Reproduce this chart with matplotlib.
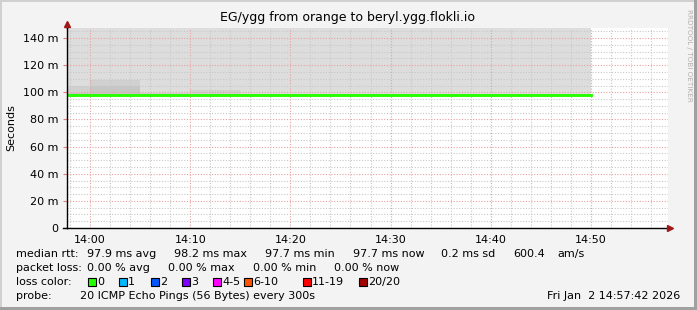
import numpy as np
import matplotlib
matplotlib.use('Agg')
import matplotlib.pyplot as plt
import matplotlib.dates as mdates
from matplotlib.patches import Rectangle
from matplotlib.ticker import MultipleLocator, FuncFormatter

# rrd steps (5 min), each value covers [t, t+5min)
times = ['13:55', '14:00', '14:05', '14:10', '14:15', '14:20',
         '14:25', '14:30', '14:35', '14:40', '14:45', '14:50']
median_ms = [97.8, 98.2, 97.8, 97.7, 97.7, 97.7, 98.0, 98.0, 97.7, 97.7, 97.7]
smoke_hi_ms = [105.0, 109.3, 99.8, 101.5, 98.5, 98.5, 98.8, 98.8, 98.5, 98.5, 98.5]
smoke_lo_ms = [99.5, 104.4, 98.8, 99.0, 98.2, 98.2, 98.5, 98.5, 98.2, 98.2, 98.2]

title = 'EG/ygg from orange to beryl.ygg.flokli.io'
rtt_line = [('median rtt:', 16), ('97.9 ms avg', 87), ('98.2 ms max', 174),
            ('97.7 ms min', 265), ('97.7 ms now', 353), ('0.2 ms sd', 441),
            ('600.4', 513), ('am/s', 557)]
loss_line = [('packet loss:', 16), ('0.00 % avg', 87), ('0.00 % max', 168),
             ('0.00 % min', 253), ('0.00 % now', 334)]
loss_labels = ['0', '1', '2', '3', '4-5', '6-10', '11-19', '20/20']
loss_colors = ['#26ff00', '#00b8ff', '#0059ff', '#7e00ff', '#ff00ff', '#ff5500', '#ff0000', '#a10000']
loss_xpos = [88, 119, 151, 182, 213, 244, 303, 359]
probe_text = '20 ICMP Echo Pings (56 Bytes) every 300s'
stamp = 'Fri Jan  2 14:57:42 2026'

W, H = 697, 310
fs = 8.0

def t(s):
    return np.datetime64('2026-01-02T' + s)

x = np.array([t(s) for s in times])
med = np.array(median_ms + median_ms[-1:])
hi = np.array(smoke_hi_ms + smoke_hi_ms[-1:])
lo = np.array(smoke_lo_ms + smoke_lo_ms[-1:])

fig = plt.figure(figsize=(W / 100, H / 100), dpi=100, facecolor='#f3f3f3')
ax = fig.add_axes([67 / W, 1 - 228 / H, 601 / W, 200 / H])
ax.set_facecolor('white')
ymax = 147.4
ax.set_xlim(t('13:57:42'), t('14:57:42'))
ax.set_ylim(0, ymax)

# smoke
ax.fill_between(x, med, ymax, step='post', color='#dddddd', lw=0, zorder=1)
ax.fill_between(x, med, hi, step='post', color='#d0d0d0', lw=0, zorder=1.1)
ax.fill_between(x, med, lo, step='post', color='#c6c6c6', lw=0, zorder=1.2)
ax.step(x, med, where='post', color='#26ff00', lw=2.1, zorder=3)

ax.xaxis.set_major_locator(mdates.MinuteLocator(byminute=range(0, 60, 10)))
ax.xaxis.set_minor_locator(mdates.MinuteLocator(byminute=range(0, 60, 2)))
ax.xaxis.set_major_formatter(mdates.DateFormatter('%H:%M'))
ax.yaxis.set_major_locator(MultipleLocator(20))
ax.yaxis.set_minor_locator(MultipleLocator(5))
ax.yaxis.set_major_formatter(FuncFormatter(lambda v, p: '0' if v == 0 else '%d m' % v))

ax.set_axisbelow(False)
ax.grid(which='minor', color='#c8c8c8', lw=0.8, ls=(0, (1, 1.5)), zorder=2)
ax.grid(which='major', color='#eaa0a0', lw=0.8, ls=(0, (1, 1.5)), zorder=2.1)

for s in ['top', 'right']:
    ax.spines[s].set_visible(False)
for s in ['left', 'bottom']:
    ax.spines[s].set_color('black')
    ax.spines[s].set_linewidth(1)
    ax.spines[s].set_zorder(4)

ax.tick_params(axis='y', which='major', length=3, color='#e08080', labelsize=fs, pad=3)
ax.tick_params(axis='x', which='major', length=0, labelsize=fs, pad=5)
ax.tick_params(which='minor', length=0)

# arrows and axis overhang
ax.plot([0], [1.02], marker='^', color='#a01818', ms=4.5, transform=ax.transAxes, clip_on=False, zorder=5)
ax.plot([1.0035], [0], marker='>', color='#a01818', ms=4.5, transform=ax.transAxes, clip_on=False, zorder=5)
ax.plot([0, 0], [1, 1.02], color='black', lw=1, transform=ax.transAxes, clip_on=False, zorder=4)
ax.plot([-0.006, 0], [0, 0], color='black', lw=1, transform=ax.transAxes, clip_on=False, zorder=4)

fig.text(348 / W, 1 - 18 / H, title, ha='center', va='center', fontsize=9)
fig.text(11 / W, 1 - 128 / H, 'Seconds', rotation=90, ha='center', va='center', fontsize=fs)
fig.text(689 / W, 1 - 55 / H, 'RRDTOOL / TOBI OETIKER', rotation=270, ha='center',
         va='center', fontsize=5.2, color='#b0b0b0')

def px(xp, yp):
    return xp / W, 1 - yp / H

for s, xp in rtt_line:
    fig.text(*px(xp, 254), s, va='center', fontsize=fs)
for s, xp in loss_line:
    fig.text(*px(xp, 268), s, va='center', fontsize=fs)
fig.text(*px(16, 282), 'loss color:', va='center', fontsize=fs)
for lab, col, xp in zip(loss_labels, loss_colors, loss_xpos):
    fig.patches.append(Rectangle(px(xp, 286), 8 / W, 8 / H, transform=fig.transFigure,
                                 facecolor=col, edgecolor='black', lw=0.8))
    fig.text(*px(xp + 9, 282), lab, va='center', fontsize=fs)
fig.text(*px(16, 296), 'probe:', va='center', fontsize=fs)
fig.text(*px(80, 296), probe_text, va='center', fontsize=fs)
fig.text(*px(680, 296), stamp, va='center', ha='right', fontsize=fs)

# 3d border
fig.patches.append(Rectangle((0, 1 - 2 / H), 1, 2 / H, transform=fig.transFigure, color='#d0d0d0', lw=0))
fig.patches.append(Rectangle((0, 0), 2 / W, 1, transform=fig.transFigure, color='#d0d0d0', lw=0))
fig.patches.append(Rectangle((1 - 3 / W, 0), 3 / W, 1, transform=fig.transFigure, color='#a0a0a0', lw=0))
fig.patches.append(Rectangle((0, 0), 1, 3 / H, transform=fig.transFigure, color='#a0a0a0', lw=0))

fig.savefig('out.png', dpi=100, facecolor=fig.get_facecolor())
